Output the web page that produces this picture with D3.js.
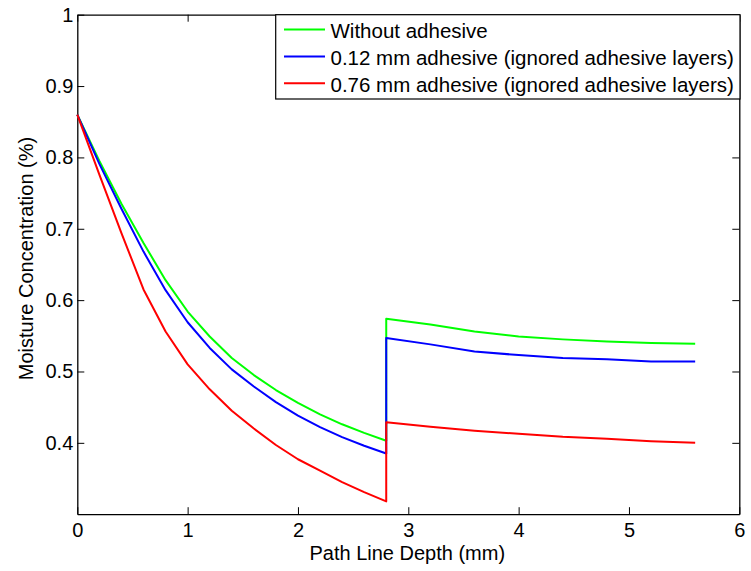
<!DOCTYPE html>
<html>
<head>
<meta charset="utf-8">
<script src="https://cdn.jsdelivr.net/npm/d3@7"></script>
<style>
  html, body { margin: 0; padding: 0; background: #fff; }
  svg { display: block; font-family: "Liberation Sans", Arial, sans-serif; }
</style>
</head>
<body>
<svg id="chart" width="751" height="571"></svg>
<script>
// Depth along the path line (mm): inner region sampled every 0.2 mm, outer every 0.4 mm
const depthInner = [0, 0.2, 0.4, 0.6, 0.8, 1.0, 1.2, 1.4, 1.6, 1.8, 2.0, 2.2, 2.4, 2.6, 2.8];
const depthOuter = [2.8, 3.2, 3.6, 4.0, 4.4, 4.8, 5.2, 5.6];

// Moisture concentration for each configuration
const noAdhesiveInner = [0.86, 0.795, 0.735, 0.680, 0.628, 0.584, 0.549, 0.519, 0.495, 0.474, 0.456, 0.440, 0.426, 0.414, 0.403];
const noAdhesiveOuter = [0.574, 0.566, 0.556, 0.549, 0.545, 0.542, 0.540, 0.539];

const thinAdhesiveInner = [0.86, 0.791, 0.728, 0.668, 0.614, 0.569, 0.533, 0.503, 0.479, 0.457, 0.438, 0.422, 0.408, 0.396, 0.385];
const thinAdhesiveOuter = [0.547, 0.538, 0.528, 0.523, 0.519, 0.517, 0.514, 0.514];

const thickAdhesiveInner = [0.86, 0.776, 0.694, 0.615, 0.556, 0.510, 0.475, 0.445, 0.420, 0.397, 0.377, 0.361, 0.345, 0.331, 0.318];
const thickAdhesiveOuter = [0.429, 0.4225, 0.417, 0.4127, 0.4085, 0.4057, 0.4024, 0.400];

const seriesNames = [
  "Without adhesive",
  "0.12 mm adhesive (ignored adhesive layers)",
  "0.76 mm adhesive (ignored adhesive layers)"
];
const seriesColors = ["#00ff00", "#0000ff", "#ff0000"];

const xTicks = [0, 1, 2, 3, 4, 5, 6];
const yTicks = [0.4, 0.5, 0.6, 0.7, 0.8, 0.9, 1];

const xLabel = "Path Line Depth (mm)";
const yLabel = "Moisture Concentration (%)";

// Build a point list per series: inner profile followed by the outer profile
function profile(inner, outer) {
  return depthInner.map((d, i) => [d, inner[i]])
    .concat(depthOuter.map((d, i) => [d, outer[i]]));
}
const series = [
  profile(noAdhesiveInner, noAdhesiveOuter),
  profile(thinAdhesiveInner, thinAdhesiveOuter),
  profile(thickAdhesiveInner, thickAdhesiveOuter)
];

const plot = { left: 77.3, right: 739.3, top: 14.7, bottom: 514.2 };
const svg = d3.select("#chart");

const x = d3.scaleLinear().domain([0, 6]).range([plot.left, plot.right]);
const y = d3.scaleLinear().domain([0.3, 1]).range([plot.bottom, plot.top]);

const tickLen = 7;
const fontSize = 20;

// Axes with inward ticks on all four sides
const axisStyle = g => {
  g.selectAll(".domain").attr("stroke", "#000").attr("stroke-width", 1.3);
  g.selectAll(".tick line").attr("stroke", "#000").attr("stroke-width", 1);
  g.selectAll(".tick text").attr("fill", "#000").attr("font-size", fontSize)
    .attr("font-family", "'Liberation Sans', Arial, sans-serif");
};

svg.append("g")
  .attr("transform", `translate(0,${plot.bottom})`)
  .call(d3.axisBottom(x).tickValues(xTicks).tickSizeInner(-tickLen).tickSizeOuter(0).tickPadding(9).tickFormat(d3.format("d")))
  .call(axisStyle);

svg.append("g")
  .attr("transform", `translate(0,${plot.top})`)
  .call(d3.axisTop(x).tickValues(xTicks).tickSizeInner(-tickLen).tickSizeOuter(0).tickFormat(""))
  .call(axisStyle);

svg.append("g")
  .attr("transform", `translate(${plot.left},0)`)
  .call(d3.axisLeft(y).tickValues(yTicks).tickSizeInner(-tickLen).tickSizeOuter(0).tickPadding(4).tickFormat(d => d === 1 ? "1" : d3.format(".1f")(d)))
  .call(axisStyle);

svg.append("g")
  .attr("transform", `translate(${plot.right},0)`)
  .call(d3.axisRight(y).tickValues(yTicks).tickSizeInner(-tickLen).tickSizeOuter(0).tickFormat(""))
  .call(axisStyle);

// Data lines
const line = d3.line().x(d => x(d[0])).y(d => y(d[1]));
svg.append("g").selectAll("path")
  .data(series)
  .join("path")
  .attr("d", line)
  .attr("fill", "none")
  .attr("stroke", (d, i) => seriesColors[i])
  .attr("stroke-width", 2)
  .attr("stroke-linejoin", "round");

// Axis titles
svg.append("text")
  .attr("x", (plot.left + plot.right) / 2 - 1)
  .attr("y", 560)
  .attr("text-anchor", "middle")
  .attr("font-size", fontSize)
  .attr("fill", "#000")
  .text(xLabel);

svg.append("text")
  .attr("transform", "translate(33,258.5) rotate(-90)")
  .attr("text-anchor", "middle")
  .attr("font-size", fontSize)
  .attr("fill", "#000")
  .text(yLabel);

// Legend
const legend = { x: 275.7, y: 14.7, w: 464.3, h: 84.3, rowStart: 29.5, rowGap: 26.9 };
const lg = svg.append("g");
lg.append("rect")
  .attr("x", legend.x).attr("y", legend.y)
  .attr("width", legend.w).attr("height", legend.h)
  .attr("fill", "#fff").attr("stroke", "#000").attr("stroke-width", 1.2);

const rows = lg.selectAll("g.row")
  .data(seriesNames)
  .join("g")
  .attr("class", "row")
  .attr("transform", (d, i) => `translate(0,${legend.rowStart + i * legend.rowGap})`);

rows.append("line")
  .attr("x1", 284).attr("x2", 325)
  .attr("y1", 0).attr("y2", 0)
  .attr("stroke", (d, i) => seriesColors[i])
  .attr("stroke-width", 2);

rows.append("text")
  .attr("x", 330.5)
  .attr("y", 8.8)
  .attr("font-size", 20.5)
  .attr("fill", "#000")
  .text(d => d);
</script>
</body>
</html>
